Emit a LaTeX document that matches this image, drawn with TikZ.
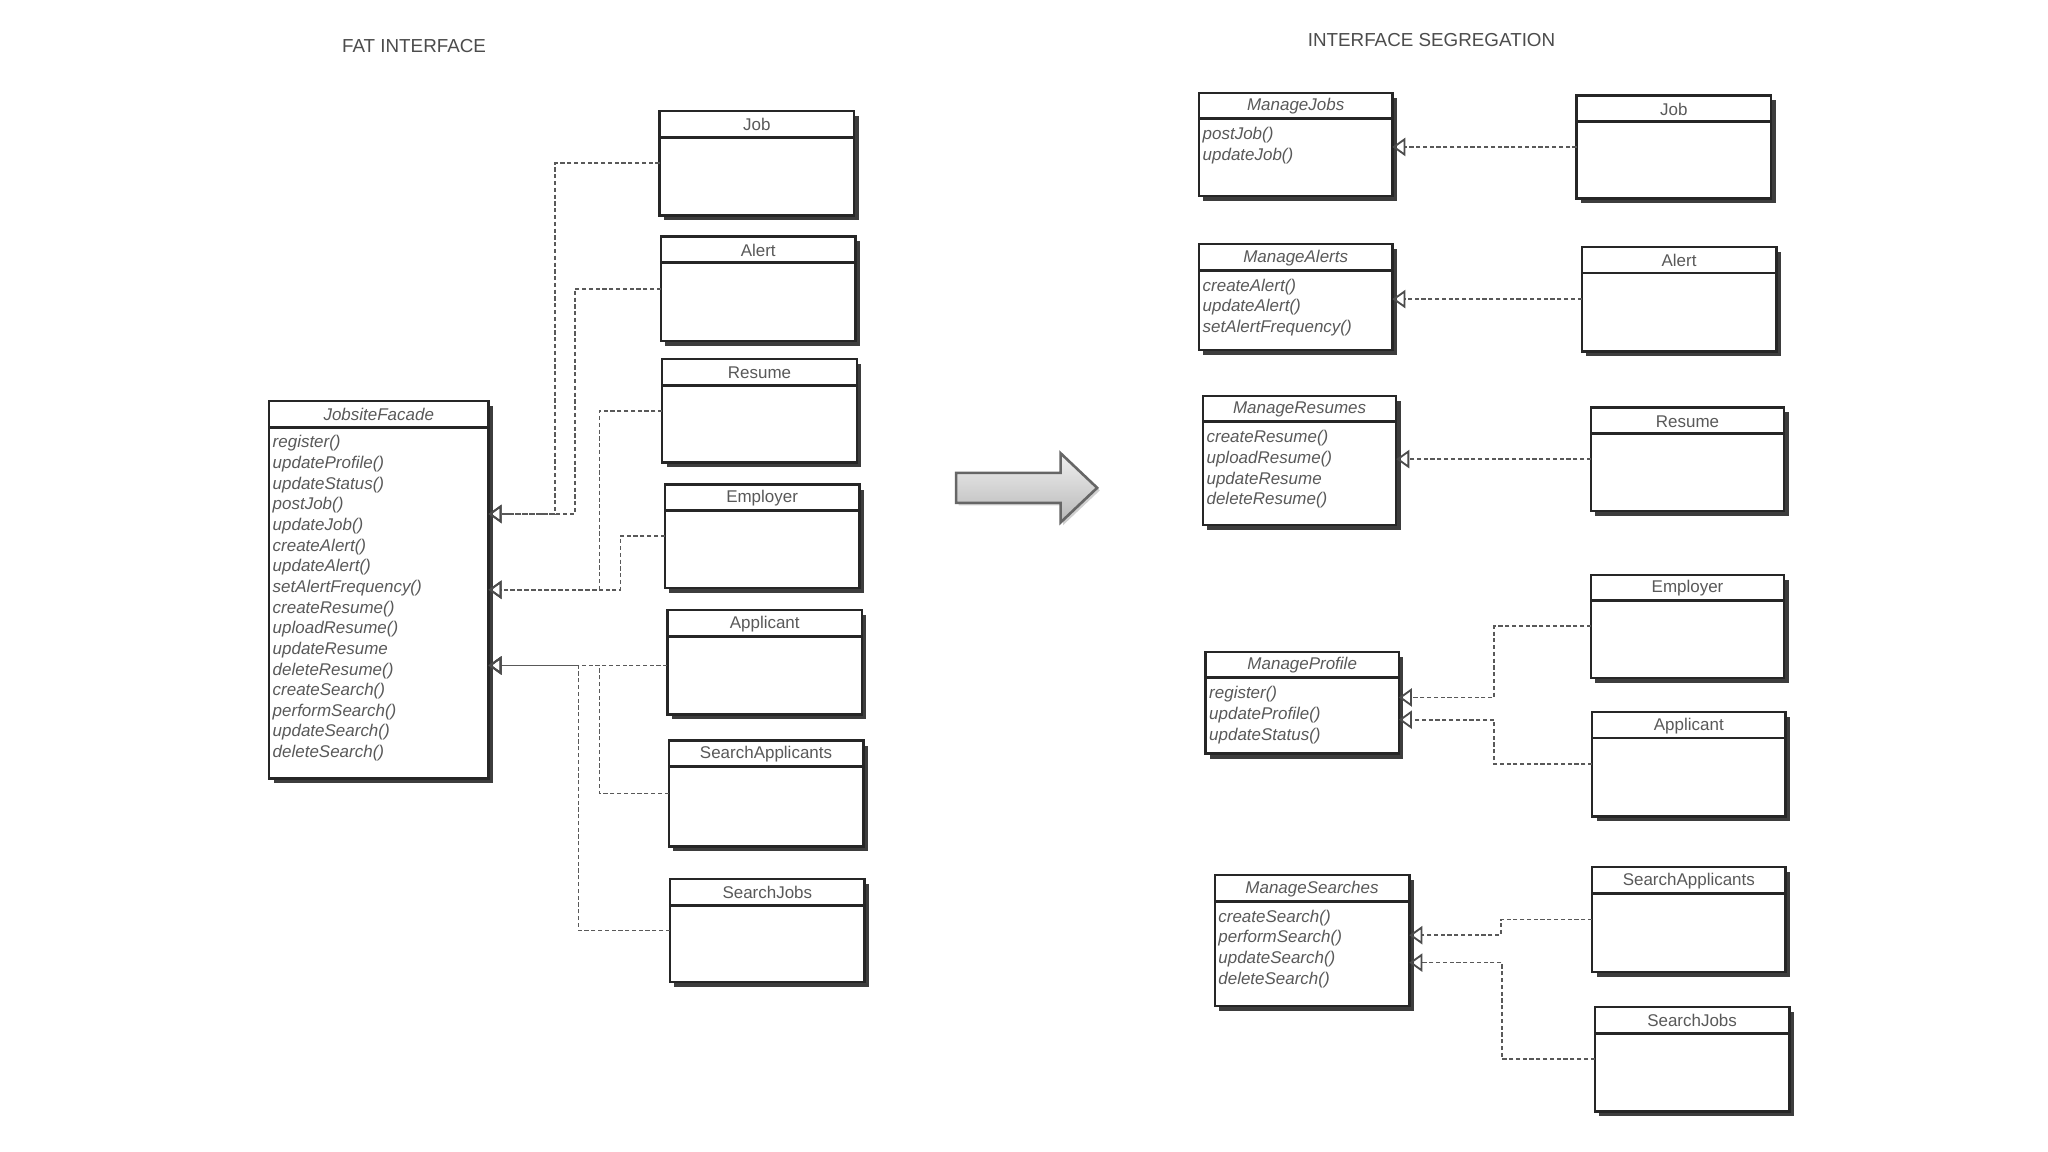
\documentclass[tikz,border=0pt]{standalone}
\usepackage{fontspec}
\setmainfont{Liberation Sans}
\usetikzlibrary{arrows.meta,shadows}
\tikzset{
  cbox/.style={draw=black!85, line width=0.9pt, fill=white, inner sep=0pt, outer sep=0pt,
    drop shadow={shadow xshift=1.7pt, shadow yshift=-1.9pt, fill=black!80, opacity=0.95}},
  divider/.style={draw=black!85, line width=1.1pt},
  ctitle/.style={text=black!65, inner sep=0pt, font=\fontsize{6.5}{7.9}\selectfont},
  mtext/.style={text=black!65, inner sep=0pt, font=\fontsize{6.5}{7.9}\selectfont\itshape},
  heading/.style={text=black!70, inner sep=0pt, font=\fontsize{7.2}{8.5}\selectfont},
  dep/.style={draw=black!65, line width=0.65pt, dash pattern=on 1.6pt off 1pt,
    -{Triangle[open, length=5pt, width=7pt, line width=0.7pt, color=black!70]}},
  bigarrow/.style={draw=black!60, line width=1pt, top color=black!6, bottom color=black!28,
    drop shadow={shadow xshift=1pt, shadow yshift=-1pt, fill=black!30, opacity=0.6}}
}
\newcommand\plainclass[6]{%
  \node[cbox, minimum width={#4*0.5pt}, minimum height={#5*0.5pt}, anchor=north west] (#1) at (#2,#3) {};
  \draw[divider] ([yshift=-10pt]#1.north west) -- ([yshift=-10pt]#1.north east);
  \node[ctitle] (#1-t) at ([yshift=-5.3pt]#1.north) {#6};
}
\newcommand\umlclass[7]{%
  \node[cbox, minimum width={#4*0.5pt}, minimum height={#5*0.5pt}, anchor=north west] (#1) at (#2,#3) {};
  \draw[divider] ([yshift=-10pt]#1.north west) -- ([yshift=-10pt]#1.north east);
  \node[ctitle, font=\fontsize{6.5}{7.9}\selectfont\itshape] (#1-t) at ([yshift=-5.3pt]#1.north) {#6};
  \foreach \m [count=\i] in {#7} {%
    \node[mtext, anchor=base west] (#1-m\i) at ([xshift=1.2pt, yshift={-18pt-(\i-1)*7.9pt}]#1.north west) {\m};}
}
\begin{document}
\begin{tikzpicture}[x=0.5pt, y=-0.5pt]
\path[use as bounding box, fill=white] (0,0) rectangle (1568,882);

% headings
\node[heading] (h1) at (317,35) {FAT INTERFACE};
\node[heading] (h2) at (1096,31) {INTERFACE SEGREGATION};

% ---------- left: fat interface ----------
\umlclass{facade}{206}{307}{168}{289}{JobsiteFacade}{register(),updateProfile(),updateStatus(),postJob(),updateJob(),createAlert(),updateAlert(),setAlertFrequency(),createResume(),uploadResume(),updateResume,deleteResume(),createSearch(),performSearch(),updateSearch(),deleteSearch()}

\plainclass{ljob}{505}{85}{149}{80}{Job}
\plainclass{lalert}{506}{181}{149}{80}{Alert}
\plainclass{lresume}{507}{275}{149}{79}{Resume}
\plainclass{lemployer}{509}{371}{149}{79}{Employer}
\plainclass{lapplicant}{511}{467}{149}{80}{Applicant}
\plainclass{lsearchapp}{512}{567}{149}{81}{SearchApplicants}
\plainclass{lsearchjobs}{513}{673}{149}{79}{SearchJobs}

\coordinate (fa1) at ([yshift=29pt]facade.east);
\coordinate (fa2) at (facade.east);
\coordinate (fa3) at ([yshift=-29pt]facade.east);

\draw[dep] (ljob.west) -- ++(-80,0) |- (fa1);
\draw[dep] (lalert.west) -- ++(-66,0) |- (fa1);
\draw[dep] (lresume.west) -- ++(-48,0) |- (fa2);
\draw[dep] (lemployer.west) -- ++(-34,0) |- (fa2);
\draw[dep] (lapplicant.west |- fa3) -- (fa3);
\draw[dep] (lsearchapp.west) -- ++(-53,0) |- (fa3);
\draw[dep] (lsearchjobs.west) -- ++(-70,0) |- (fa3);

% ---------- middle arrow ----------
\path[bigarrow] (732,362) -- (812,362) -- (812,347) -- (840,373.5) -- (812,400) -- (812,385) -- (732,385) -- cycle;

% ---------- right: segregated interfaces ----------
\umlclass{mjobs}{918}{71}{148}{79}{ManageJobs}{postJob(),updateJob()}
\umlclass{malerts}{918}{187}{148}{81}{ManageAlerts}{createAlert(),updateAlert(),setAlertFrequency()}
\umlclass{mresumes}{921}{303}{148}{99}{ManageResumes}{createResume(),uploadResume(),updateResume,deleteResume()}
\umlclass{mprofile}{923}{499}{148}{78}{ManageProfile}{register(),updateProfile(),updateStatus()}
\umlclass{msearches}{930}{670}{149}{100}{ManageSearches}{createSearch(),performSearch(),updateSearch(),deleteSearch()}

\plainclass{rjob}{1207}{73}{149}{79}{Job}
\plainclass{ralert}{1211}{189}{149}{80}{Alert}
\plainclass{rresume}{1218}{312}{148}{79}{Resume}
\plainclass{remployer}{1218}{440}{148}{79}{Employer}
\plainclass{rapplicant}{1219}{545}{148}{80}{Applicant}
\plainclass{rsearchapp}{1219}{664}{148}{80}{SearchApplicants}
\plainclass{rsearchjobs}{1221}{771}{149}{80}{SearchJobs}

\draw[dep] (rjob.west) -- (mjobs.east |- rjob.west);
\draw[dep] (ralert.west) -- (malerts.east |- ralert.west);
\draw[dep] (rresume.west) -- (mresumes.east |- rresume.west);

\coordinate (pa1) at ([yshift=2pt]mprofile.east);
\coordinate (pa2) at ([yshift=-6.5pt]mprofile.east);
\draw[dep] (remployer.west) -- ++(-74,0) |- (pa1);
\draw[dep] (rapplicant.west) -- ++(-75,0) |- (pa2);

\coordinate (sa1) at ([yshift=2pt]msearches.east);
\coordinate (sa2) at ([yshift=-8.5pt]msearches.east);
\draw[dep] (rsearchapp.west) -- ++(-70,0) |- (sa1);
\draw[dep] (rsearchjobs.west) -- ++(-71,0) |- (sa2);
\end{tikzpicture}
\end{document}
